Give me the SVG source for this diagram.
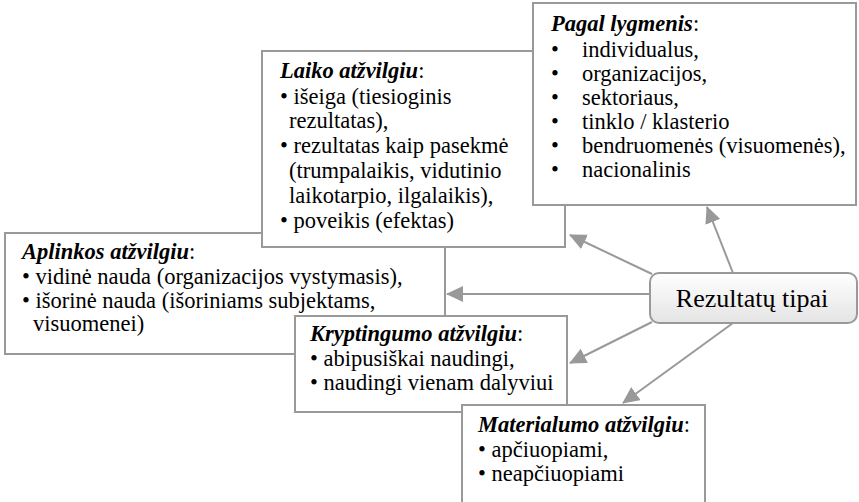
<svg xmlns="http://www.w3.org/2000/svg" width="859" height="502" viewBox="0 0 859 502">
<style>
.box{fill:#fff;stroke:#999;stroke-width:2}
.ln{stroke:#999;stroke-width:2;fill:none;marker-end:url(#ah)}
</style>
<defs>
<marker id="ah" markerUnits="userSpaceOnUse" markerWidth="18" markerHeight="16" refX="16" refY="8" orient="auto">
<path d="M0,0 L17,8 L0,16 Z" fill="#999"/>
</marker>
<linearGradient id="g" x1="0" y1="0" x2="0" y2="1">
<stop offset="0" stop-color="#ffffff"/>
<stop offset="1" stop-color="#e4e4e4"/>
</linearGradient>
</defs>
<g id="aplinkos">
<rect class="box" x="5" y="233" width="440" height="121"/>
<text x="22" y="259" font-family="'Liberation Serif'" font-size="22.5"><tspan font-weight="bold" font-style="italic">Aplinkos atžvilgiu</tspan>:</text>
<text x="22" y="284" font-family="'Liberation Serif'" font-size="22.5">• vidinė nauda (organizacijos vystymasis),</text>
<text x="22" y="308" font-family="'Liberation Serif'" font-size="22.5">• išorinė nauda (išoriniams subjektams,</text>
<text x="33" y="331" font-family="'Liberation Serif'" font-size="22.5">visuomenei)</text>
</g>
<g id="laiko">
<rect class="box" x="262" y="51" width="303" height="196"/>
<text x="280" y="78" font-family="'Liberation Serif'" font-size="22.5"><tspan font-weight="bold" font-style="italic">Laiko atžvilgiu</tspan>:</text>
<text x="280" y="104" font-family="'Liberation Serif'" font-size="22.5">• išeiga (tiesioginis</text>
<text x="289" y="128" font-family="'Liberation Serif'" font-size="22.5">rezultatas),</text>
<text x="280" y="153" font-family="'Liberation Serif'" font-size="22.5">• rezultatas kaip pasekmė</text>
<text x="289" y="178" font-family="'Liberation Serif'" font-size="22.5">(trumpalaikis, vidutinio</text>
<text x="289" y="203" font-family="'Liberation Serif'" font-size="22.5">laikotarpio, ilgalaikis),</text>
<text x="280" y="228" font-family="'Liberation Serif'" font-size="22.5">• poveikis (efektas)</text>
</g>
<g id="pagal">
<rect class="box" x="533" y="3" width="323" height="202"/>
<text x="551" y="31" font-family="'Liberation Serif'" font-size="22.5"><tspan font-weight="bold" font-style="italic">Pagal lygmenis</tspan>:</text>
<text x="551" y="57" font-family="'Liberation Serif'" font-size="22.5">•</text>
<text x="582" y="57" font-family="'Liberation Serif'" font-size="22.5">individualus,</text>
<text x="551" y="81" font-family="'Liberation Serif'" font-size="22.5">•</text>
<text x="582" y="81" font-family="'Liberation Serif'" font-size="22.5">organizacijos,</text>
<text x="551" y="105" font-family="'Liberation Serif'" font-size="22.5">•</text>
<text x="582" y="105" font-family="'Liberation Serif'" font-size="22.5">sektoriaus,</text>
<text x="551" y="129" font-family="'Liberation Serif'" font-size="22.5">•</text>
<text x="582" y="129" font-family="'Liberation Serif'" font-size="22.5">tinklo / klasterio</text>
<text x="551" y="153" font-family="'Liberation Serif'" font-size="22.5">•</text>
<text x="582" y="153" font-family="'Liberation Serif'" font-size="22.5">bendruomenės (visuomenės),</text>
<text x="551" y="177" font-family="'Liberation Serif'" font-size="22.5">•</text>
<text x="582" y="177" font-family="'Liberation Serif'" font-size="22.5">nacionalinis</text>
</g>
<g id="kryptingumo">
<rect class="box" x="295" y="316" width="272" height="96"/>
<text x="310" y="341" font-family="'Liberation Serif'" font-size="22.5"><tspan font-weight="bold" font-style="italic">Kryptingumo atžvilgiu</tspan>:</text>
<text x="310" y="366" font-family="'Liberation Serif'" font-size="22.5">• abipusiškai naudingi,</text>
<text x="310" y="390" font-family="'Liberation Serif'" font-size="22.5">• naudingi vienam dalyviui</text>
</g>
<g id="materialumo">
<rect class="box" x="462" y="405" width="243" height="110"/>
<text x="478" y="432" font-family="'Liberation Serif'" font-size="22.5"><tspan font-weight="bold" font-style="italic">Materialumo atžvilgiu</tspan>:</text>
<text x="478" y="457" font-family="'Liberation Serif'" font-size="22.5">• apčiuopiami,</text>
<text x="478" y="481" font-family="'Liberation Serif'" font-size="22.5">• neapčiuopiami</text>
</g>
<g id="connectors">
<line class="ln" x1="733" y1="273" x2="707" y2="207"/>
<line class="ln" x1="652" y1="274" x2="570" y2="235"/>
<line class="ln" x1="650" y1="294" x2="447" y2="294"/>
<line class="ln" x1="652" y1="322" x2="570" y2="363"/>
<line class="ln" x1="733" y1="323" x2="623" y2="403"/>
</g>
<g id="rezultatu">
<rect x="650" y="273" width="207" height="50" rx="9" fill="url(#g)" stroke="#999" stroke-width="2"/>
<text x="752" y="307" text-anchor="middle" font-family="'Liberation Serif'" font-size="26">Rezultatų tipai</text>
</g>
</svg>
